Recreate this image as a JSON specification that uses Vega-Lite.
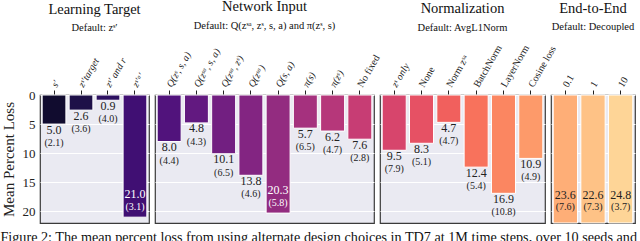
{
  "$schema": "https://vega.github.io/schema/vega-lite/v6.json",
  "padding": {"left": 0, "right": 0, "top": -2, "bottom": 0},
  "bounds": "flush",
  "datasets": {
    "d": [
      {"group": "LT", "label": "s′", "value": 5.0, "std": 2.1},
      {"group": "LT", "label": "zˢ′target", "value": 2.6, "std": 3.6},
      {"group": "LT", "label": "zˢ′ and r", "value": 0.9, "std": 4.0},
      {"group": "LT", "label": "zˢ′ᵃ′", "value": 21.0, "std": 3.1},
      {"group": "NI", "label": "Q(zˢ, s, a)", "value": 8.0, "std": 4.4},
      {"group": "NI", "label": "Q(zˢᵃ, s, a)", "value": 4.8, "std": 4.3},
      {"group": "NI", "label": "Q(zˢᵃ, zˢ)", "value": 10.1, "std": 6.5},
      {"group": "NI", "label": "Q(zˢᵃ)", "value": 13.8, "std": 4.6},
      {"group": "NI", "label": "Q(s, a)", "value": 20.3, "std": 5.8},
      {"group": "NI", "label": "π(s)", "value": 5.7, "std": 6.5},
      {"group": "NI", "label": "π(zˢ)", "value": 6.2, "std": 4.7},
      {"group": "NI", "label": "No fixed", "value": 7.6, "std": 2.8},
      {"group": "NO", "label": "zˢ only", "value": 9.5, "std": 7.9},
      {"group": "NO", "label": "None", "value": 8.3, "std": 5.1},
      {"group": "NO", "label": "Norm zˢᵃ", "value": 4.7, "std": 4.7},
      {"group": "NO", "label": "BatchNorm", "value": 12.4, "std": 5.4},
      {"group": "NO", "label": "LayerNorm", "value": 16.9, "std": 10.8},
      {"group": "NO", "label": "Cosine loss", "value": 10.9, "std": 4.9},
      {"group": "EE", "label": "0.1", "value": 23.6, "std": 7.6},
      {"group": "EE", "label": "1", "value": 22.6, "std": 7.3},
      {"group": "EE", "label": "10", "value": 24.8, "std": 3.7}
    ]
  },
  "data": {"name": "d"},
  "transform": [{"calculate": "'(' + format(datum.std, '.1f') + ')'", "as": "stdLabel"}],
  "title": {
    "text": "Figure 2: The mean percent loss from using alternate design choices in TD7 at 1M time steps, over 10 seeds and",
    "orient": "bottom", "anchor": "start", "frame": "bounds", "fontSize": 14.2, "offset": 7, "color": "#111"
  },
  "spacing": 6,
  "hconcat": [
    {
      "width": 109, "height": 128,
      "title": {"text": "Learning Target", "subtitle": "Default: zˢ′", "offset": 21},
      "transform": [{"filter": "datum.group === 'LT'"}],
      "encoding": {
        "x": {"field": "label", "type": "nominal", "sort": null, "scale": {"paddingInner": 0.12, "paddingOuter": 0.08},
              "axis": {"orient": "top", "title": null, "labelAngle": -60, "labelFontSize": 10, "tickSize": 5, "tickColor": "#222", "domain": false, "labelPadding": 4,
                       "labelFontStyle": {"condition": {"test": "test(/^[Qzπs]/, datum.value)", "value": "italic"}, "value": "normal"}}},
        "y": {"field": "value", "type": "quantitative", "scale": {"domain": [0, 22], "reverse": true, "clamp": true, "nice": false},
              "axis": {"title": "Mean Percent Loss", "titleFontSize": 15, "titlePadding": 6, "values": [0, 5, 10, 15, 20], "labelFontSize": 13, "ticks": false, "domain": false, "labelPadding": 5, "grid": true, "gridColor": "white", "gridWidth": 1}}
      },
      "layer": [
        {
          "mark": {"type": "bar", "stroke": "white", "strokeWidth": 1},
          "encoding": {
            "color": {"field": "label", "type": "nominal", "sort": null, "legend": null,
                      "scale": {"domain": ["s′", "zˢ′target", "zˢ′ and r", "zˢ′ᵃ′", "Q(zˢ, s, a)", "Q(zˢᵃ, s, a)", "Q(zˢᵃ, zˢ)", "Q(zˢᵃ)", "Q(s, a)", "π(s)", "π(zˢ)", "No fixed", "zˢ only", "None", "Norm zˢᵃ", "BatchNorm", "LayerNorm", "Cosine loss", "0.1", "1", "10"],
                                "scheme": {"name": "magma", "extent": [0.045, 0.955]}}}
          }
        },
        {
          "transform": [{"filter": "datum.value < 19"}],
          "mark": {"type": "text", "baseline": "top", "dy": 0.5, "fontSize": 12, "color": "#222"},
          "encoding": {"text": {"field": "value", "type": "quantitative", "format": ".1f"}}
        },
        {
          "transform": [{"filter": "datum.value < 19"}],
          "mark": {"type": "text", "baseline": "top", "dy": 14, "fontSize": 10, "color": "#222"},
          "encoding": {"text": {"field": "stdLabel", "type": "nominal"}}
        },
        {
          "transform": [{"filter": "datum.value >= 19"}],
          "mark": {"type": "text", "baseline": "middle", "dy": -23, "fontSize": 12, "color": "white"},
          "encoding": {"text": {"field": "value", "type": "quantitative", "format": ".1f"}}
        },
        {
          "transform": [{"filter": "datum.value >= 19"}],
          "mark": {"type": "text", "baseline": "middle", "dy": -10, "fontSize": 10, "color": "white"},
          "encoding": {"text": {"field": "stdLabel", "type": "nominal"}}
        }
      ]
    },
    {
      "width": 219, "height": 128,
      "title": {"text": "Network Input", "subtitle": "Default: Q(zˢᵃ, zˢ, s, a) and π(zˢ, s)", "offset": 14},
      "transform": [{"filter": "datum.group === 'NI'"}],
      "encoding": {
        "x": {"field": "label", "type": "nominal", "sort": null, "scale": {"paddingInner": 0.12, "paddingOuter": 0.08},
              "axis": {"orient": "top", "title": null, "labelAngle": -60, "labelFontSize": 10, "tickSize": 5, "tickColor": "#222", "domain": false, "labelPadding": 4,
                       "labelFontStyle": {"condition": {"test": "test(/^[Qzπs]/, datum.value)", "value": "italic"}, "value": "normal"}}},
        "y": {"field": "value", "type": "quantitative", "scale": {"domain": [0, 22], "reverse": true, "clamp": true, "nice": false},
              "axis": {"title": null, "values": [0, 5, 10, 15, 20], "labels": false, "ticks": false, "domain": false, "grid": true, "gridColor": "white", "gridWidth": 1}}
      },
      "layer": [
        {
          "mark": {"type": "bar", "stroke": "white", "strokeWidth": 1},
          "encoding": {"color": {"field": "label", "type": "nominal", "sort": null, "legend": null}}
        },
        {
          "transform": [{"filter": "datum.value < 19"}],
          "mark": {"type": "text", "baseline": "top", "dy": 0.5, "fontSize": 12, "color": "#222"},
          "encoding": {"text": {"field": "value", "type": "quantitative", "format": ".1f"}}
        },
        {
          "transform": [{"filter": "datum.value < 19"}],
          "mark": {"type": "text", "baseline": "top", "dy": 14, "fontSize": 10, "color": "#222"},
          "encoding": {"text": {"field": "stdLabel", "type": "nominal"}}
        },
        {
          "transform": [{"filter": "datum.value >= 19"}],
          "mark": {"type": "text", "baseline": "middle", "dy": -23, "fontSize": 12, "color": "white"},
          "encoding": {"text": {"field": "value", "type": "quantitative", "format": ".1f"}}
        },
        {
          "transform": [{"filter": "datum.value >= 19"}],
          "mark": {"type": "text", "baseline": "middle", "dy": -10, "fontSize": 10, "color": "white"},
          "encoding": {"text": {"field": "stdLabel", "type": "nominal"}}
        }
      ]
    },
    {
      "width": 165, "height": 128,
      "title": {"text": "Normalization", "subtitle": "Default: AvgL1Norm", "offset": 9},
      "transform": [{"filter": "datum.group === 'NO'"}],
      "encoding": {
        "x": {"field": "label", "type": "nominal", "sort": null, "scale": {"paddingInner": 0.12, "paddingOuter": 0.08},
              "axis": {"orient": "top", "title": null, "labelAngle": -60, "labelFontSize": 10, "tickSize": 5, "tickColor": "#222", "domain": false, "labelPadding": 4,
                       "labelFontStyle": {"condition": {"test": "test(/^[Qzπs]/, datum.value)", "value": "italic"}, "value": "normal"}}},
        "y": {"field": "value", "type": "quantitative", "scale": {"domain": [0, 22], "reverse": true, "clamp": true, "nice": false},
              "axis": {"title": null, "values": [0, 5, 10, 15, 20], "labels": false, "ticks": false, "domain": false, "grid": true, "gridColor": "white", "gridWidth": 1}}
      },
      "layer": [
        {
          "mark": {"type": "bar", "stroke": "white", "strokeWidth": 1},
          "encoding": {"color": {"field": "label", "type": "nominal", "sort": null, "legend": null}}
        },
        {
          "mark": {"type": "text", "baseline": "top", "dy": 0.5, "fontSize": 12, "color": "#222"},
          "encoding": {"text": {"field": "value", "type": "quantitative", "format": ".1f"}}
        },
        {
          "mark": {"type": "text", "baseline": "top", "dy": 14, "fontSize": 10, "color": "#222"},
          "encoding": {"text": {"field": "stdLabel", "type": "nominal"}}
        }
      ]
    },
    {
      "width": 84, "height": 128,
      "title": {"text": "End-to-End", "subtitle": "Default: Decoupled", "offset": 39},
      "transform": [{"filter": "datum.group === 'EE'"}],
      "encoding": {
        "x": {"field": "label", "type": "nominal", "sort": null, "scale": {"paddingInner": 0.12, "paddingOuter": 0.08},
              "axis": {"orient": "top", "title": null, "labelAngle": -60, "labelFontSize": 10, "tickSize": 5, "tickColor": "#222", "domain": false, "labelPadding": 4}},
        "y": {"field": "value", "type": "quantitative", "scale": {"domain": [0, 22], "reverse": true, "clamp": true, "nice": false},
              "axis": {"title": null, "values": [0, 5, 10, 15, 20], "labels": false, "ticks": false, "domain": false, "grid": true, "gridColor": "white", "gridWidth": 1}}
      },
      "layer": [
        {
          "mark": {"type": "bar", "stroke": "white", "strokeWidth": 1},
          "encoding": {"color": {"field": "label", "type": "nominal", "sort": null, "legend": null}}
        },
        {
          "mark": {"type": "text", "baseline": "middle", "dy": -28, "fontSize": 12, "color": "#222"},
          "encoding": {"text": {"field": "value", "type": "quantitative", "format": ".1f"}}
        },
        {
          "mark": {"type": "text", "baseline": "middle", "dy": -16, "fontSize": 10, "color": "#222"},
          "encoding": {"text": {"field": "stdLabel", "type": "nominal"}}
        }
      ]
    }
  ],
  "config": {
    "font": "Liberation Serif",
    "view": {"fill": "#eaeaf2", "stroke": "#3a3a3a", "strokeWidth": 1.2},
    "axis": {"labelColor": "#222", "titleColor": "#222", "labelFont": "Liberation Serif", "titleFont": "Liberation Serif", "titleFontWeight": "normal"},
    "title": {"font": "Liberation Serif", "fontWeight": "normal", "fontSize": 14.5, "color": "#111", "subtitleFont": "Liberation Serif", "subtitleFontSize": 10.5, "subtitleColor": "#111", "subtitlePadding": 6, "frame": "group"}
  }
}
